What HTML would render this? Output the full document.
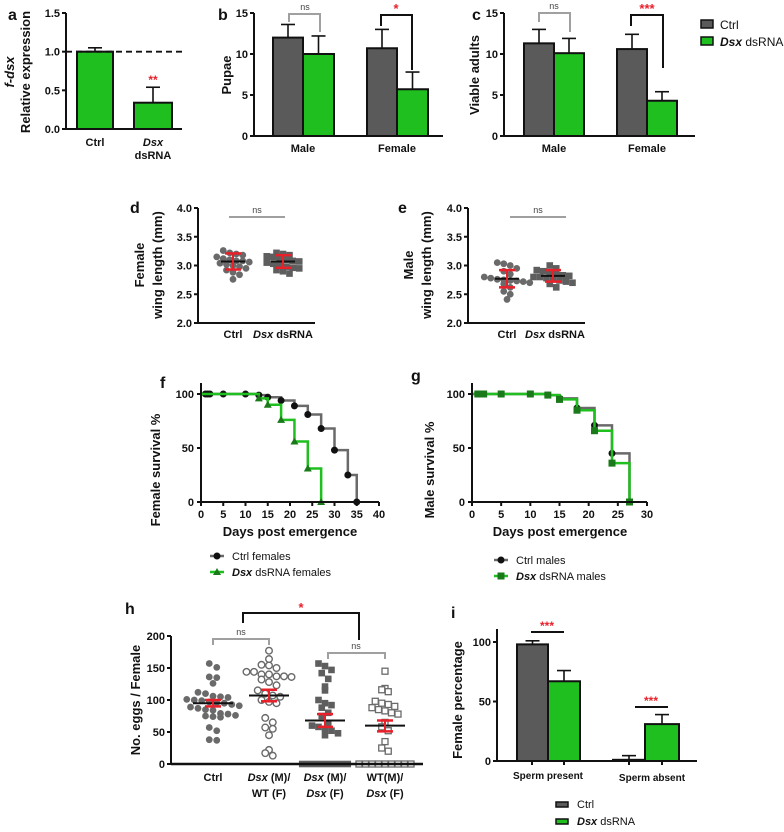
<!DOCTYPE html>
<html><head><meta charset="utf-8"><style>
html,body{margin:0;padding:0;background:#fff;}
svg{display:block;font-family:"Liberation Sans",Arial,sans-serif;}
</style></head><body>
<svg id="fig" width="784" height="832" viewBox="0 0 784 832" xmlns="http://www.w3.org/2000/svg"></svg>
<script>
// ---- data ----
const aCats=['Ctrl','Dsx dsRNA'];
const aVals=[1.0,0.34];
const aErr=[1.05,0.54];
const bMaleVals=[12,10];
const bMaleErr=[13.6,12.2];
const bFemVals=[10.7,5.7];
const bFemErr=[13,7.8];
const cMaleVals=[11.3,10.1];
const cMaleErr=[13,11.9];
const cFemVals=[10.6,4.3];
const cFemErr=[12.4,5.4];
const dCtrl=[3.26,3.22,3.2,3.18,3.15,3.12,3.1,3.08,3.08,3.06,3.04,3.02,3.0,2.98,2.95,2.92,2.88,2.84,2.76];
const dDsx=[3.22,3.2,3.18,3.16,3.15,3.12,3.1,3.08,3.07,3.05,3.03,3.0,2.98,2.96,2.95,2.92,2.9,2.86];
const dMeans=[3.07,3.07];const dSD=[0.14,0.11];
const eCtrl=[3.05,3.03,3.0,2.95,2.9,2.85,2.8,2.78,2.76,2.75,2.74,2.73,2.72,2.7,2.68,2.62,2.55,2.5,2.41];
const eDsx=[3.0,2.95,2.92,2.9,2.88,2.85,2.83,2.82,2.8,2.8,2.78,2.76,2.74,2.72,2.7,2.68,2.62];
const eMeans=[2.77,2.82];const eSD=[0.15,0.1];
const fCtrlDays=[1,1.5,2,5,10,13,15,18,21,24,27,30,33,35];
const fCtrlSurv=[100,100,100,100,100,99,97,94,89,81,68,48,25,0];
const fDsxDays=[13,15,18,21,24,27];
const fDsxSurv=[96,90,76,56,31,0];
const gCtrlDays=[1,1.5,2,5,10,13,15,18,21,24,27];
const gCtrlSurv=[100,100,100,100,100,99,96,87,71,45,0];
const gDsxDays=[1,1.5,2,5,10,13,15,18,21,24,27];
const gDsxSurv=[100,100,100,100,100,99,95,85,66,36,0];
const hG1=[157,151,136,126,135,112,110,106,105,104,101,100,99,97,96,95,93,91,89,87,85,84,79,78,76,75,74,73,57,52,38,37];
const hG2=[177,164,155,154,150,144,144,140,140,137,137,136,132,128,123,115,110,107,105,100,97,95,72,65,57,55,45,22,17,13];
const hG3=[157,153,147,142,133,121,115,100,95,92,88,80,75,62,60,58,55,52,48,45,0,0,0,0,0,0,0,0];
const hG4=[145,118,116,113,98,95,93,90,88,85,83,80,78,65,58,52,35,25,20,0,0,0,0,0,0,0,0,0];
const hMeans=[95,107,68,60];
const hSemLo=[90,98,58,51];
const hSemHi=[100,116,78,68];
const iPresent=[98,67];const iPresentErr=[101,76];
const iAbsent=[1,31];const iAbsentErr=[4.5,39];

const GREY='#5a5a5a',GREEN='#1fbf1f',RED='#e8202a',LG='#a0a0a0';
const svg=document.getElementById('fig');
const NS='http://www.w3.org/2000/svg';
function el(tag,at,parent){const e=document.createElementNS(NS,tag);for(const k in at)e.setAttribute(k,at[k]);(parent||svg).appendChild(e);return e;}
function line(x1,y1,x2,y2,c,w,name,dash){const e=el('line',{x1,y1,x2,y2,stroke:c,'stroke-width':w});if(dash)e.setAttribute('stroke-dasharray',dash);

return e;}
function text(x,y,s,size,name,opt){opt=opt||{};const e=el('text',{x,y,'font-size':size,'font-weight':opt.w||'bold','text-anchor':opt.a||'middle',fill:opt.c||'#111'});
if(opt.rot)e.setAttribute('transform','rotate(-90 '+x+' '+y+')');
if(opt.it)e.setAttribute('font-style','italic');
e.innerHTML=s;

return e;}
function rect(x,y,w,h,fill,name){const e=el('rect',{x,y,width:w,height:h,fill,stroke:'#111','stroke-width':2});

return e;}
function lin(d0,d1,r0,r1){return v=>r0+(v-d0)*(r1-r0)/(d1-d0);}
function yaxis(x,yTop,yBot,ticks,fy,fmt,name){line(x,yTop,x,yBot,'#111',2,name+'-y-axis');ticks.forEach(t=>{line(x-4,fy(t),x,fy(t),'#111',2,name+'-y-tick');text(x-6,fy(t)+4,fmt(t),11,name+'-y-tick-label',{a:'end'});});}
function bar(x,w,v,err,fy,fill,name){rect(x,fy(v),w,fy(0)-fy(v),fill,name);const cx=x+w/2;line(cx,fy(v),cx,fy(err),'#111',1.6,name+'-error');line(cx-7,fy(err),cx+7,fy(err),'#111',1.6,name+'-error-cap');}
function bracket(x1,x2,y,l1,l2,c,name){const e=el('polyline',{points:`${x1},${l1} ${x1},${y} ${x2},${y} ${x2},${l2}`,fill:'none',stroke:c,'stroke-width':2});

}

// ---- panel a ----
const ya=lin(0,1.5,129,13);
text(8,20,'a',16,'panel-a-label',{a:'start'});
text(14,72,'f-dsx',13,'panel-a-y-title-gene',{rot:1,it:1});
text(30,72,'Relative expression',13,'panel-a-y-title',{rot:1});
bar(77,36,aVals[0],aErr[0],ya,GREEN,'bar-a-ctrl');
bar(134,38,aVals[1],aErr[1],ya,GREEN,'bar-a-dsx');
line(66,ya(1),182,ya(1),'#111',1.8,'panel-a-reference-line','6,4');
line(66,129,182,129,'#111',2,'panel-a-x-axis');
yaxis(66,13,129,[0,0.5,1,1.5],ya,t=>t.toFixed(1),'panel-a');
text(95,146,'Ctrl',11,'panel-a-x-label-ctrl');
text(153,146,'Dsx',11,'panel-a-x-label-dsx',{it:1});
text(153,159,'dsRNA',11,'panel-a-x-label-dsrna');
text(153,84,'**',12,'panel-a-significance',{c:RED});

// ---- panel b ----
const yb=lin(0,15,136,13);
text(218,20,'b',16,'panel-b-label',{a:'start'});
text(231,75,'Pupae',13,'panel-b-y-title',{rot:1});
bar(273,30,bMaleVals[0],bMaleErr[0],yb,GREY,'bar-b-male-ctrl');
bar(303,31,bMaleVals[1],bMaleErr[1],yb,GREEN,'bar-b-male-dsx');
bar(367,30,bFemVals[0],bFemErr[0],yb,GREY,'bar-b-female-ctrl');
bar(397,31,bFemVals[1],bFemErr[1],yb,GREEN,'bar-b-female-dsx');
line(254,136,443,136,'#111',2,'panel-b-x-axis');
yaxis(254,13,136,[0,5,10,15],yb,t=>t,'panel-b');
bracket(289,320,14,22,32,LG,'panel-b-ns-bracket');text(305,10,'ns',9,'panel-b-ns',{w:'normal',c:'#444'});
bracket(381,412,15,26,70,'#111','panel-b-sig-bracket');text(396,13,'*',13,'panel-b-significance',{c:RED});
text(303,152,'Male',11,'panel-b-x-label-male');text(397,152,'Female',11,'panel-b-x-label-female');

// ---- panel c ----
const yc=yb;
text(472,20,'c',16,'panel-c-label',{a:'start'});
text(479,75,'Viable adults',13,'panel-c-y-title',{rot:1});
bar(524,30,cMaleVals[0],cMaleErr[0],yc,GREY,'bar-c-male-ctrl');
bar(554,30,cMaleVals[1],cMaleErr[1],yc,GREEN,'bar-c-male-dsx');
bar(617,30,cFemVals[0],cFemErr[0],yc,GREY,'bar-c-female-ctrl');
bar(647,30,cFemVals[1],cFemErr[1],yc,GREEN,'bar-c-female-dsx');
line(504,136,695,136,'#111',2,'panel-c-x-axis');
yaxis(504,13,136,[0,5,10,15],yc,t=>t,'panel-c');
bracket(539,570,13,22,32,LG,'panel-c-ns-bracket');text(554,9,'ns',9,'panel-c-ns',{w:'normal',c:'#444'});
bracket(631,663,15,26,68,'#111','panel-c-sig-bracket');text(647,13,'***',13,'panel-c-significance',{c:RED});
text(554,152,'Male',11,'panel-c-x-label-male');text(647,152,'Female',11,'panel-c-x-label-female');
// legend
el('rect',{x:701,y:20,width:12,height:8,fill:GREY,stroke:'#111','stroke-width':1.5});
text(720,29,'Ctrl',12,'legend-ctrl-label',{a:'start',w:'normal'});
el('rect',{x:701,y:37,width:12,height:8,fill:GREEN,stroke:'#111','stroke-width':1.5});
text(720,46,'<tspan font-weight="bold" font-style="italic">Dsx</tspan> dsRNA',12,'legend-dsx-label',{a:'start',w:'normal'});

// ---- scatter helper ----
function scatter(vals,cx,fy,marker,name,spread,bin){
 const counts={};
 vals.forEach(v=>{const k=Math.round(fy(v)/bin);counts[k]=(counts[k]||0)+1;});
 const used={};
 vals.forEach(v=>{const k=Math.round(fy(v)/bin);const n=counts[k];const i=(used[k]=(used[k]||0)+1)-1;
  const dx=(i-(n-1)/2)*spread;const x=cx+dx,y=fy(v);let e;
  if(marker==='circle')e=el('circle',{cx:x,cy:y,r:3.4,fill:'#6a6a6a'});
  else if(marker==='hcircle'){e=el('circle',{cx:x,cy:y,r:3.3,fill:'#fff',stroke:'#6a6a6a','stroke-width':1.4});}
  else if(marker==='square')e=el('rect',{x:x-3.3,y:y-3.3,width:6.6,height:6.6,fill:'#5e5e5e'});
  else e=el('rect',{x:x-3,y:y-3,width:6,height:6,fill:'#fff',stroke:'#6a6a6a','stroke-width':1.3});
  
  });}
function meanSd(cx,m,lo,hi,fy,name,hw){line(cx-hw,fy(m),cx+hw,fy(m),'#111',2,name+'-mean');line(cx,fy(lo),cx,fy(hi),RED,2,name+'-error');line(cx-8,fy(lo),cx+8,fy(lo),RED,2.5,name+'-error-low');line(cx-8,fy(hi),cx+8,fy(hi),RED,2.5,name+'-error-high');}

// ---- panel d ----
const yd=lin(2,4,323,208);
text(130,213,'d',16,'panel-d-label',{a:'start'});
text(144,265,'Female',13,'panel-d-y-title-1',{rot:1});
text(162,265,'wing length (mm)',13,'panel-d-y-title-2',{rot:1});
scatter(dCtrl,233,yd,'circle','point-d-ctrl',6.5,7);
scatter(dDsx,283,yd,'square','point-d-dsx',6.5,7);
meanSd(233,dMeans[0],dMeans[0]-dSD[0],dMeans[0]+dSD[0],yd,'panel-d-ctrl',12);
meanSd(283,dMeans[1],dMeans[1]-dSD[1],dMeans[1]+dSD[1],yd,'panel-d-dsx',12);
line(198,323,315,323,'#111',2,'panel-d-x-axis');
yaxis(198,208,323,[2,2.5,3,3.5,4],yd,t=>t.toFixed(1),'panel-d');
line(229,217,285,217,LG,2,'panel-d-ns-line');text(257,213,'ns',9,'panel-d-ns',{w:'normal',c:'#444'});
text(233,338,'Ctrl',11,'panel-d-x-label-ctrl');
text(283,338,'<tspan font-style="italic">Dsx</tspan> dsRNA',11,'panel-d-x-label-dsx');

// ---- panel e ----
text(398,213,'e',16,'panel-e-label',{a:'start'});
text(413,265,'Male',13,'panel-e-y-title-1',{rot:1});
text(431,265,'wing length (mm)',13,'panel-e-y-title-2',{rot:1});
scatter(eCtrl,507,yd,'circle','point-e-ctrl',6.5,7);
scatter(eDsx,553,yd,'square','point-e-dsx',6.5,7);
meanSd(507,eMeans[0],eMeans[0]-eSD[0],eMeans[0]+eSD[0],yd,'panel-e-ctrl',12);
meanSd(553,eMeans[1],eMeans[1]-eSD[1],eMeans[1]+eSD[1],yd,'panel-e-dsx',12);
line(468,323,585,323,'#111',2,'panel-e-x-axis');
yaxis(468,208,323,[2,2.5,3,3.5,4],yd,t=>t.toFixed(1),'panel-e');
line(510,217,566,217,LG,2,'panel-e-ns-line');text(538,213,'ns',9,'panel-e-ns',{w:'normal',c:'#444'});
text(507,338,'Ctrl',11,'panel-e-x-label-ctrl');
text(555,338,'<tspan font-style="italic">Dsx</tspan> dsRNA',11,'panel-e-x-label-dsx');

// ---- survival helper ----
function km(days,surv,fx,fy,color,marker,name){
 let pts=`${fx(0)},${fy(100)}`;let prev=100;
 days.forEach((d,i)=>{pts+=` ${fx(d)},${fy(prev)} ${fx(d)},${fy(surv[i])}`;prev=surv[i];});
 const p=el('polyline',{points:pts,fill:'none',stroke:color,'stroke-width':2.5});
 
 
 days.forEach((d,i)=>{const x=fx(d),y=fy(surv[i]);let e;
  if(marker==='circle')e=el('circle',{cx:x,cy:y,r:3.5,fill:'#111'});
  else if(marker==='tri')e=el('polygon',{points:`${x},${y-4} ${x-4},${y+3} ${x+4},${y+3}`,fill:'#1a7a1a'});
  else e=el('rect',{x:x-3.5,y:y-3.5,width:7,height:7,fill:'#1a7a1a'});
  
  });}
const ys=lin(0,100,502,394);

// ---- panel f ----
const xf=lin(0,40,201,379);
text(160,470,'Female survival %',13,'panel-f-y-title',{rot:1});
text(160,388,'f',16,'panel-f-label',{a:'start'});
km(fCtrlDays,fCtrlSurv,xf,ys,'#6a6a6a','circle','series-f-ctrl');
km(fDsxDays,fDsxSurv,xf,ys,GREEN,'tri','series-f-dsx');
line(201,383,201,502,'#111',2,'panel-f-y-axis');line(201,502,379,502,'#111',2,'panel-f-x-axis');
[0,50,100].forEach(t=>{line(197,ys(t),201,ys(t),'#111',2,'panel-f-y-tick');text(194,ys(t)+4,t,11,'panel-f-y-tick-label',{a:'end'});});
[0,5,10,15,20,25,30,35,40].forEach(t=>{line(xf(t),502,xf(t),506,'#111',2,'panel-f-x-tick');text(xf(t),518,t,11,'panel-f-x-tick-label');});
text(290,536,'Days post emergence',13,'panel-f-x-title');
line(210,556,224,556,'#6a6a6a',2.5,'legend-f-ctrl-line');el('circle',{cx:217,cy:556,r:3.5,fill:'#111'});
text(232,560,'Ctrl females',11,'legend-f-ctrl-label',{a:'start',w:'normal'});
line(210,572,224,572,GREEN,2.5,'legend-f-dsx-line');el('polygon',{points:'217,568 213,575 221,575',fill:'#1a7a1a'});
text(232,576,'<tspan font-weight="bold" font-style="italic">Dsx</tspan> dsRNA females',11,'legend-f-dsx-label',{a:'start',w:'normal'});

// ---- panel g ----
const xg=lin(0,30,472,647);
text(434,470,'Male survival %',13,'panel-g-y-title',{rot:1});
text(411,381,'g',16,'panel-g-label',{a:'start'});
km(gCtrlDays,gCtrlSurv,xg,ys,'#6a6a6a','circle','series-g-ctrl');
km(gDsxDays,gDsxSurv,xg,ys,GREEN,'sq','series-g-dsx');
line(472,383,472,502,'#111',2,'panel-g-y-axis');line(472,502,647,502,'#111',2,'panel-g-x-axis');
[0,50,100].forEach(t=>{line(468,ys(t),472,ys(t),'#111',2,'panel-g-y-tick');text(465,ys(t)+4,t,11,'panel-g-y-tick-label',{a:'end'});});
[0,5,10,15,20,25,30].forEach(t=>{line(xg(t),502,xg(t),506,'#111',2,'panel-g-x-tick');text(xg(t),518,t,11,'panel-g-x-tick-label');});
text(560,536,'Days post emergence',13,'panel-g-x-title');
line(494,560,508,560,'#6a6a6a',2.5,'legend-g-ctrl-line');el('circle',{cx:501,cy:560,r:3.5,fill:'#111'});
text(516,564,'Ctrl males',11,'legend-g-ctrl-label',{a:'start',w:'normal'});
line(494,576,508,576,GREEN,2.5,'legend-g-dsx-line');el('rect',{x:497.5,y:572.5,width:7,height:7,fill:'#1a7a1a'});
text(516,580,'<tspan font-weight="bold" font-style="italic">Dsx</tspan> dsRNA males',11,'legend-g-dsx-label',{a:'start',w:'normal'});

// ---- panel h ----
const yh=lin(0,200,764,636);
text(125,614,'h',16,'panel-h-label',{a:'start'});
text(140,700,'No. eggs / Female',13,'panel-h-y-title',{rot:1});
const hx=[213,269,325,385];
scatter(hG1,hx[0],yh,'circle','point-h-ctrl',7.5,9);
scatter(hG2,hx[1],yh,'hcircle','point-h-dsxm-wtf',7.5,9);
scatter(hG3,hx[2],yh,'square','point-h-dsxm-dsxf',6.5,9);
scatter(hG4,hx[3],yh,'hsquare','point-h-wtm-dsxf',6.5,9);
hx.forEach((x,i)=>meanSd(x,hMeans[i],hSemLo[i],hSemHi[i],yh,'panel-h-group-'+(i+1),20));
line(171,764,423,764,'#111',2.5,'panel-h-x-axis');
yaxis(171,636,764,[0,50,100,150,200],yh,t=>t,'panel-h');
bracket(213,269,639,645,645,LG,'panel-h-ns-bracket-1');text(241,635,'ns',9,'panel-h-ns-1',{w:'normal',c:'#444'});
bracket(328,385,653,659,659,LG,'panel-h-ns-bracket-2');text(356,649,'ns',9,'panel-h-ns-2',{w:'normal',c:'#444'});
bracket(243,359,613,623,640,'#111','panel-h-sig-bracket');text(301,612,'*',13,'panel-h-significance',{c:RED});
text(213,781,'Ctrl',11,'panel-h-x-label-ctrl');
text(269,781,'<tspan font-style="italic">Dsx</tspan> (M)/',11,'panel-h-x-label-2a');text(269,797,'WT (F)',11,'panel-h-x-label-2b');
text(325,781,'<tspan font-style="italic">Dsx</tspan> (M)/',11,'panel-h-x-label-3a');text(325,797,'<tspan font-style="italic">Dsx</tspan> (F)',11,'panel-h-x-label-3b');
text(385,781,'WT(M)/',11,'panel-h-x-label-4a');text(385,797,'<tspan font-style="italic">Dsx</tspan> (F)',11,'panel-h-x-label-4b');

// ---- panel i ----
const yi=lin(0,100,761,642);
text(451,618,'i',16,'panel-i-label',{a:'start'});
text(462,700,'Female percentage',13,'panel-i-y-title',{rot:1});
bar(517,31,iPresent[0],iPresentErr[0],yi,GREY,'bar-i-present-ctrl');
bar(548,32,iPresent[1],iPresentErr[1],yi,GREEN,'bar-i-present-dsx');
bar(613,32,iAbsent[0],iAbsentErr[0],yi,GREY,'bar-i-absent-ctrl');
bar(645,34,iAbsent[1],iAbsentErr[1],yi,GREEN,'bar-i-absent-dsx');
line(497,761,697,761,'#111',2,'panel-i-x-axis');
line(497,629,497,761,'#111',2,'panel-i-y-axis');
[0,50,100].forEach(t=>{line(493,yi(t),497,yi(t),'#111',2,'panel-i-y-tick');text(491,yi(t)+4,t,11,'panel-i-y-tick-label',{a:'end'});});
[532,564,629,662].forEach(x=>line(x,761,x,765,'#111',2,'panel-i-x-tick'));
line(531,632,564,632,'#111',2,'panel-i-sig-line-1');text(547,630,'***',12,'panel-i-significance-1',{c:RED});
line(635,707,668,707,'#111',2,'panel-i-sig-line-2');text(651,705,'***',12,'panel-i-significance-2',{c:RED});
text(548,779,'Sperm present',10,'panel-i-x-label-present');
text(652,781,'Sperm absent',10,'panel-i-x-label-absent');
el('rect',{x:556,y:802,width:12,height:5,fill:GREY,stroke:'#111','stroke-width':1.5});
text(577,808,'Ctrl',11,'legend-i-ctrl-label',{a:'start',w:'normal'});
el('rect',{x:556,y:819,width:12,height:5,fill:GREEN,stroke:'#111','stroke-width':1.5});
text(577,825,'<tspan font-weight="bold" font-style="italic">Dsx</tspan> dsRNA',11,'legend-i-dsx-label',{a:'start',w:'normal'});
</script>
</body></html>
